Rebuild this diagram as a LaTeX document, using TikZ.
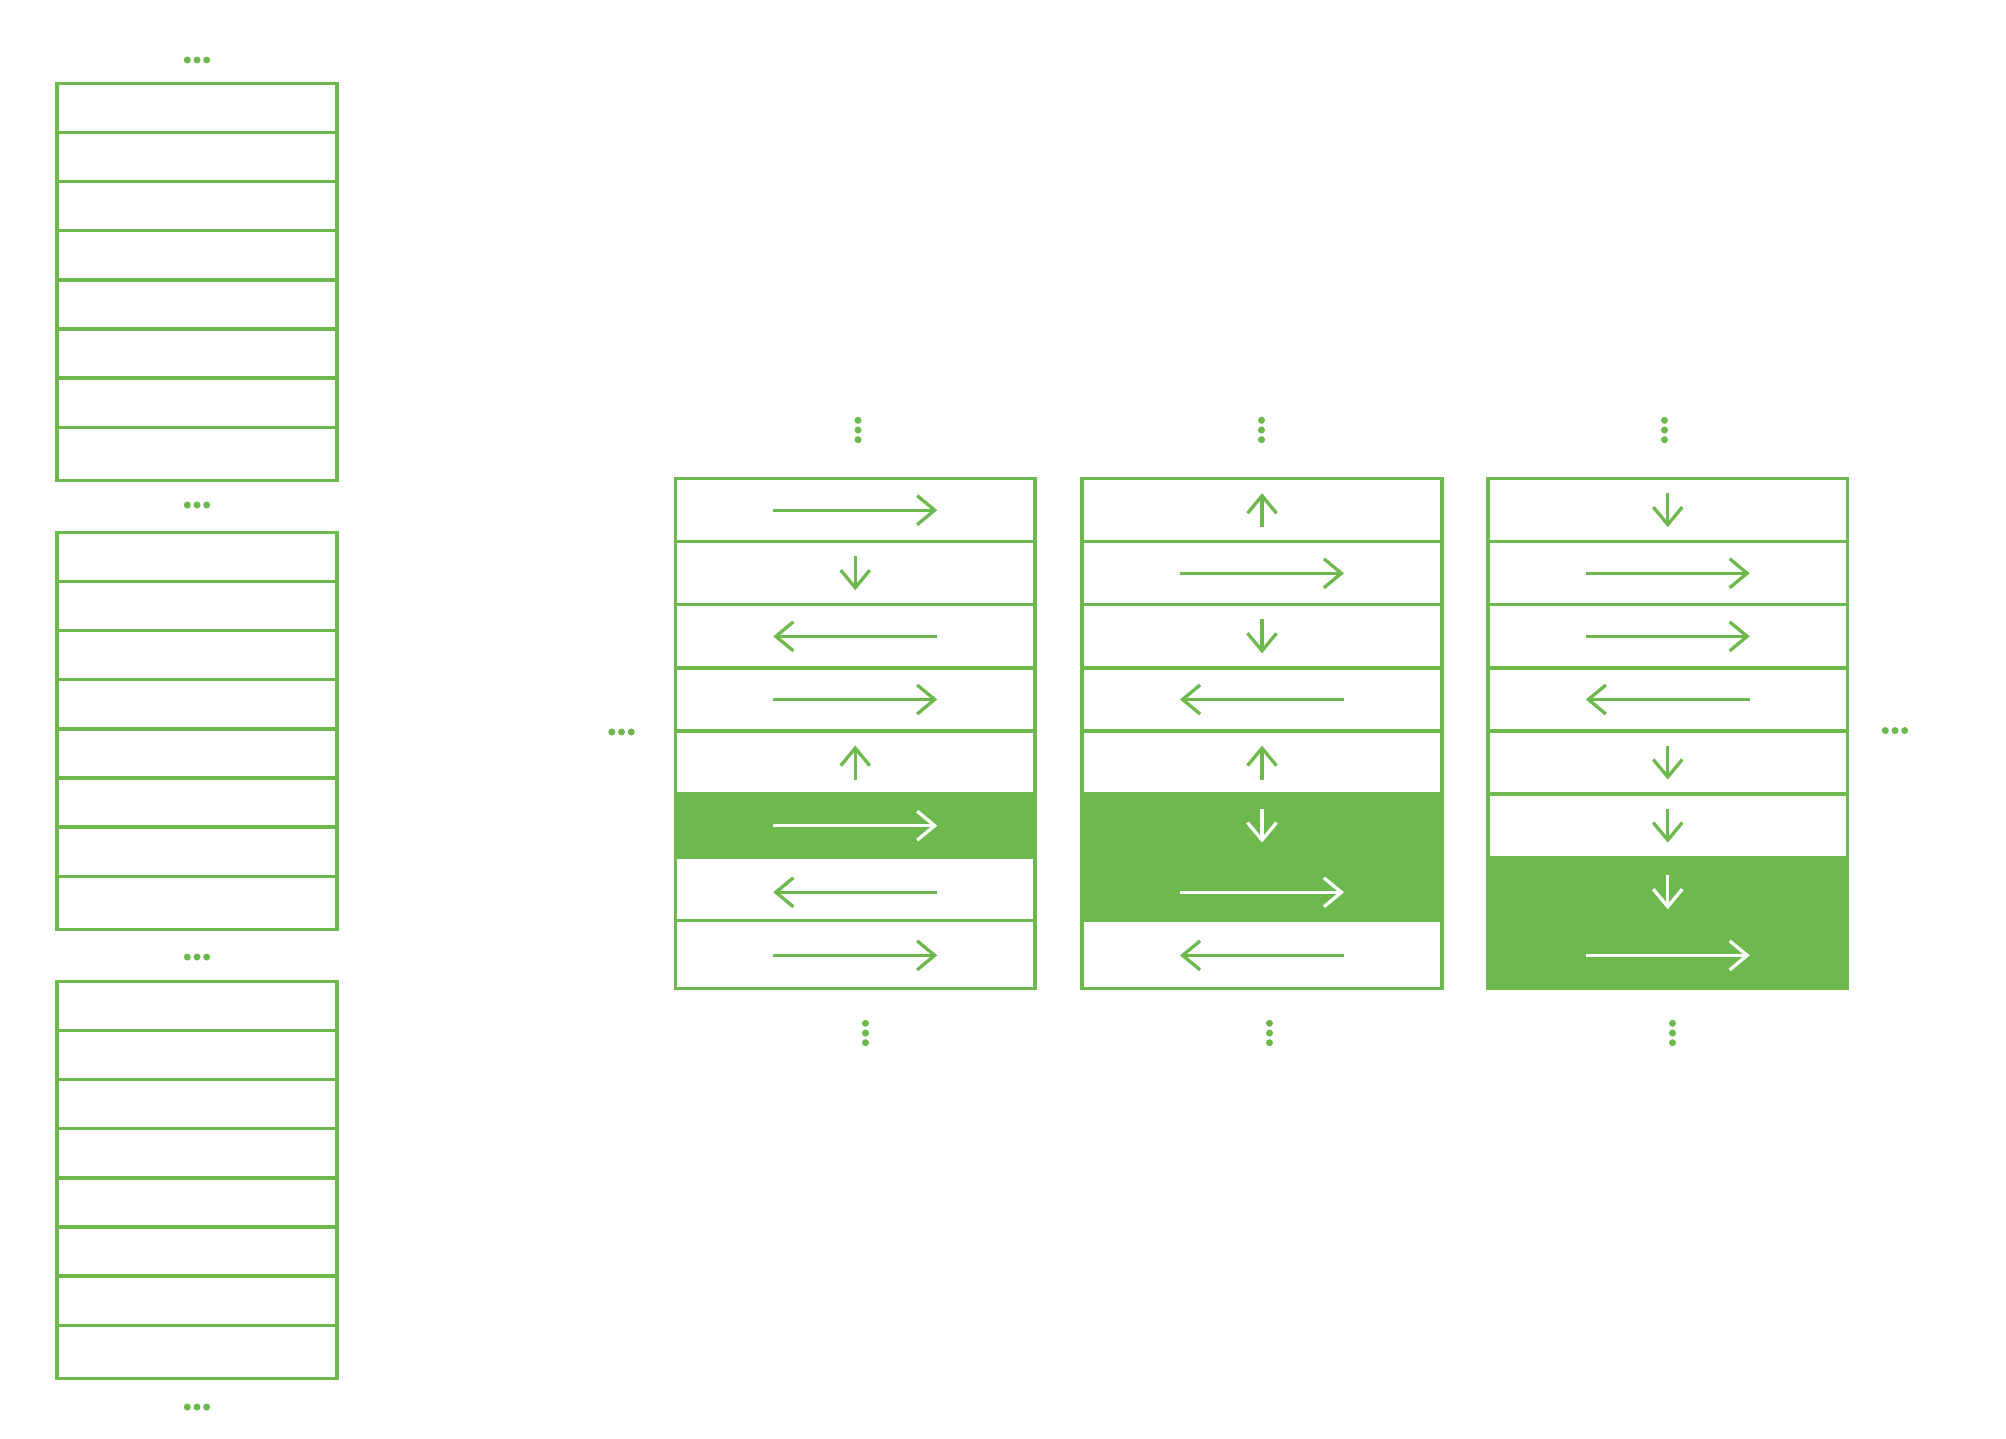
\documentclass[tikz,border=0pt]{standalone}
\usetikzlibrary{arrows.meta}
\definecolor{nvgreen}{RGB}{109,185,77}
\tikzset{
  cell/.style={draw=nvgreen, line width=0.033cm},
  flow/.style={line width=0.033cm, -{Straight Barb[sharp, length=0.175cm, width=0.29cm]}},
  goright/.pic={\draw[flow] (-82,0) -- (82,0);},
  goleft/.pic={\draw[flow] (82,0) -- (-82,0);},
  goup/.pic={\draw[flow] (0,17) -- (0,-17);},
  godown/.pic={\draw[flow] (0,-17) -- (0,17);},
  hdots/.pic={\foreach \t in {-9.7,0,9.7} \fill (\t,0) circle (0.035cm);},
  vdots/.pic={\foreach \t in {-9.7,0,9.7} \fill (0,\t) circle (0.035cm);}
}
\begin{document}
\begin{tikzpicture}[x=0.01cm, y=-0.01cm, nvgreen]
\useasboundingbox (0,0) rectangle (2006,1438);
\fill[white] (0,0) rectangle (2006,1438);

% left stack of blocks
\foreach \by in {83.5,532.5,981.5} {
  \draw[cell] (57,\by) rectangle (337,\by+397);
  \foreach \k in {1,...,7} \draw[cell] (57,\by+49.1*\k) -- (337,\by+49.1*\k);
}
\foreach \y in {60,505,957,1407} \pic at (197,\y) {hdots};

% column 1
\fill[nvgreen] (675.5,794.1) rectangle (1035,857.2);
\draw[cell] (675.5,478.6) rectangle (1035,988.3);
\foreach \k in {1,...,7} \draw[cell] (675.5,478.6+63.1*\k) -- (1035,478.6+63.1*\k);
\foreach \d/\c [count=\k] in {goright/nvgreen,godown/nvgreen,goleft/nvgreen,goright/nvgreen,goup/nvgreen,goright/white,goleft/nvgreen,goright/nvgreen}
  \pic[\c] at (855.25,{478.6+63.1*(\k-0.5)+3.5*(\k>6)}) {\d};

% column 2
\fill[nvgreen] (1082,794.1) rectangle (1442,920.3);
\draw[cell] (1082,478.6) rectangle (1442,988.3);
\foreach \k in {1,...,7} \draw[cell] (1082,478.6+63.1*\k) -- (1442,478.6+63.1*\k);
\foreach \d/\c [count=\k] in {goup/nvgreen,goright/nvgreen,godown/nvgreen,goleft/nvgreen,goup/nvgreen,godown/white,goright/white,goleft/nvgreen}
  \pic[\c] at (1262,{478.6+63.1*(\k-0.5)+3.5*(\k>6)}) {\d};

% column 3
\fill[nvgreen] (1488,857.2) rectangle (1847.5,988.3);
\draw[cell] (1488,478.6) rectangle (1847.5,988.3);
\foreach \k in {1,...,7} \draw[cell] (1488,478.6+63.1*\k) -- (1847.5,478.6+63.1*\k);
\foreach \d/\c [count=\k] in {godown/nvgreen,goright/nvgreen,goright/nvgreen,goleft/nvgreen,godown/nvgreen,godown/nvgreen,godown/white,goright/white}
  \pic[\c] at (1667.75,{478.6+63.1*(\k-0.5)+3.5*(\k>6)}) {\d};

% ellipses round the columns
\pic at (858,430) {vdots};
\pic at (1261.5,430) {vdots};
\pic at (1664.5,430) {vdots};
\pic at (865.5,1033) {vdots};
\pic at (1269.5,1033) {vdots};
\pic at (1672.5,1033) {vdots};
\pic at (621.5,732) {hdots};
\pic at (1895,730.5) {hdots};
\end{tikzpicture}
\end{document}
